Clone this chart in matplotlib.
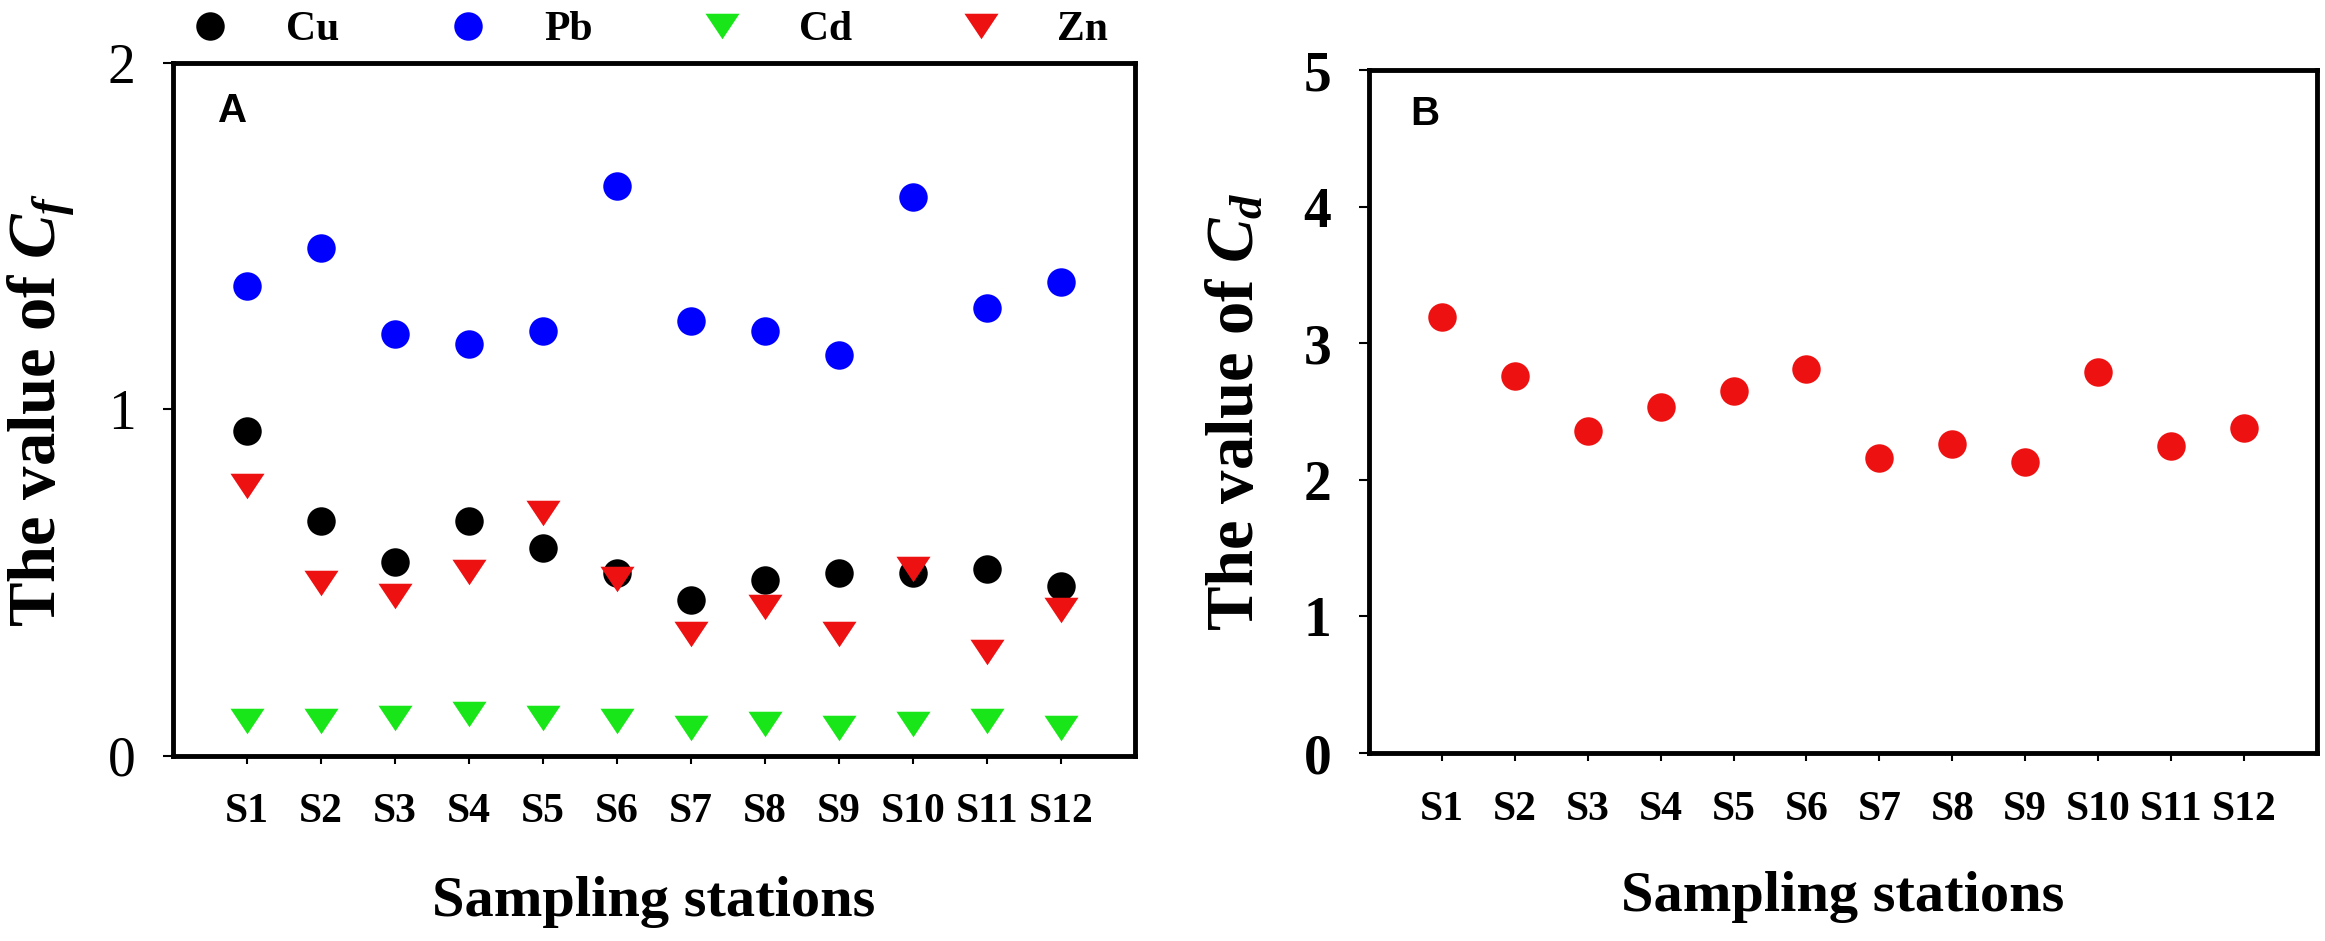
import matplotlib
matplotlib.use("Agg")
import matplotlib.pyplot as plt

plt.rcParams['font.family'] = 'Liberation Serif'
plt.rcParams['mathtext.fontset'] = 'custom'
plt.rcParams['mathtext.it'] = 'Liberation Serif:italic:bold'
plt.rcParams['mathtext.rm'] = 'Liberation Serif:bold'

stations = ["S1", "S2", "S3", "S4", "S5", "S6", "S7", "S8", "S9", "S10", "S11", "S12"]
cu = [0.938, 0.679, 0.560, 0.679, 0.599, 0.527, 0.449, 0.508, 0.529, 0.529, 0.540, 0.490]
pb = [1.357, 1.467, 1.218, 1.188, 1.227, 1.646, 1.256, 1.227, 1.156, 1.612, 1.292, 1.369]
cd = [0.101, 0.101, 0.111, 0.121, 0.111, 0.101, 0.081, 0.092, 0.081, 0.092, 0.101, 0.081]
zn = [0.779, 0.500, 0.461, 0.531, 0.700, 0.511, 0.351, 0.431, 0.351, 0.541, 0.301, 0.420]
cdeg = [3.19, 2.76, 2.36, 2.53, 2.65, 2.81, 2.16, 2.26, 2.13, 2.79, 2.25, 2.38]

x = list(range(1, len(stations) + 1))
tri = [(-1, 0.75), (1, 0.75), (0, -0.75)]

fig = plt.figure(figsize=(23.25, 9.41), dpi=100)
ax1 = fig.add_axes([0.0744, 0.1966, 0.4138, 0.7365])
ax2 = fig.add_axes([0.5888, 0.1997, 0.4077, 0.7258])

ms = 20.5
ax1.plot(x, cu, 'o', color='black', ms=ms, mew=0, label='Cu')
ax1.plot(x, pb, 'o', color='#0000ff', ms=ms, mew=0, label='Pb')
ax1.plot(x, cd, ls='none', marker=tri, color='#19e619', ms=24.5, mew=0, label='Cd')
ax1.plot(x, zn, ls='none', marker=tri, color='#ee1111', ms=24.5, mew=0, label='Zn')

ax2.plot(x, cdeg, 'o', color='#ee1111', ms=ms, mew=0)

for ax in (ax1, ax2):
    ax.set_xlim(0, 13)
    ax.set_xticks(x)
    ax.set_xticklabels(stations, fontsize=30, fontweight='bold')
    for s in ax.spines.values():
        s.set_linewidth(3.5)
    ax.tick_params(axis='x', direction='out', length=6, width=1.5, pad=21)
    ax.tick_params(axis='y', direction='out', length=7, width=1.5, pad=20)
    ax.text(0.5, -0.21, 'Sampling stations', transform=ax.transAxes,
            ha='center', va='center', fontsize=42, fontweight='bold')

ax1.set_ylim(0, 2)
ax1.set_yticks([0, 1, 2])
ax1.set_yticklabels(['0', '1', '2'], fontsize=40)
ax1.text(-0.137, 0.5, 'The value of $C_f$', transform=ax1.transAxes, rotation=90,
         ha='center', va='center', fontsize=48, fontweight='bold')
ax1.text(0.0624, 0.931, 'A', transform=ax1.transAxes, ha='center', va='center',
         fontsize=29, fontweight='bold', family='Liberation Sans')

ax2.set_ylim(0, 5)
ax2.set_yticks([0, 1, 2, 3, 4, 5])
ax2.set_yticklabels(['0', '1', '2', '3', '4', '5'], fontsize=40, fontweight='bold')
ax2.text(-0.140, 0.5, 'The value of $C_d$', transform=ax2.transAxes, rotation=90,
         ha='center', va='center', fontsize=48, fontweight='bold')
ax2.text(0.059, 0.9356, 'B', transform=ax2.transAxes, ha='center', va='center',
         fontsize=29, fontweight='bold', family='Liberation Sans')

leg = ax1.legend(ncol=4, loc='center left', bbox_to_anchor=(0.0812, 0.968),
                 bbox_transform=fig.transFigure, frameon=False, borderpad=0,
                 borderaxespad=0, handlelength=1.0, handletextpad=1.33,
                 columnspacing=2.6, prop={'family': 'Liberation Serif', 'weight': 'bold', 'size': 30})

plt.savefig("out.png", dpi=100)
